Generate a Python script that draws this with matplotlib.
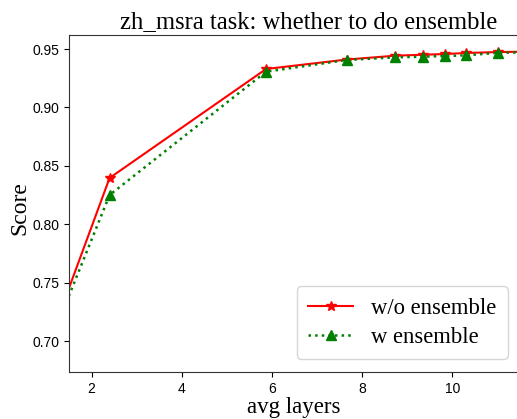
import matplotlib
matplotlib.use("Agg")
import matplotlib.pyplot as plt

avg_layers = [1.0, 2.40, 5.87, 7.66, 8.74, 9.35, 9.83, 10.30, 11.02, 12.4]
wo_ensemble = [0.693, 0.8396, 0.9329, 0.9410, 0.9443, 0.9451, 0.9457, 0.9466, 0.9474, 0.9482]
w_ensemble = [0.691, 0.8250, 0.9306, 0.9406, 0.9429, 0.9434, 0.9440, 0.9446, 0.9468, 0.9475]

title = "zh_msra task: whether to do ensemble"
xlabel = "avg layers"
ylabel = "Score"
yticks = [0.70, 0.75, 0.80, 0.85, 0.90, 0.95]
xticks = [2, 4, 6, 8, 10]

serif = ["Liberation Serif", "DejaVu Serif"]

fig = plt.figure(figsize=(5.17, 4.19), dpi=100)
ax = fig.add_axes([69/517, 47/419, (519-69)/517, (372-35)/419])

ax.plot(avg_layers, wo_ensemble, color="red", linestyle="-", marker="*",
        markersize=7, linewidth=1.5, label="w/o ensemble")
ax.plot(avg_layers, w_ensemble, color="green", linestyle=":", marker="^",
        markersize=7, linewidth=1.8, label="w ensemble")

ax.set_xlim(1.5, 11.48)
ax.set_ylim(0.6735, 0.962)
ax.set_xticks(xticks)
ax.set_yticks(yticks)
ax.set_yticklabels([f"{v:.2f}" for v in yticks])
for lab in ax.get_xticklabels() + ax.get_yticklabels():
    lab.set_fontfamily(["Liberation Sans", "DejaVu Sans"])
    lab.set_fontsize(10)
for s in ax.spines.values():
    s.set_color("#333333")

ax.set_title(title, fontsize=17.7, family=serif, x=0.533, pad=5)
ax.set_xlabel(xlabel, fontsize=16.5, family=serif, labelpad=1)
ax.set_ylabel(ylabel, fontsize=17, family=serif, va="center", ha="center")
ax.yaxis.set_label_coords(-0.109, 0.485)

ax.legend(loc="lower right", prop={"family": serif, "size": 16.3},
          handlelength=2.0, borderpad=0.5, labelspacing=0.35,
          borderaxespad=0, bbox_to_anchor=((508-69)/450, (372-359)/337))

fig.savefig("out.png", dpi=100)
